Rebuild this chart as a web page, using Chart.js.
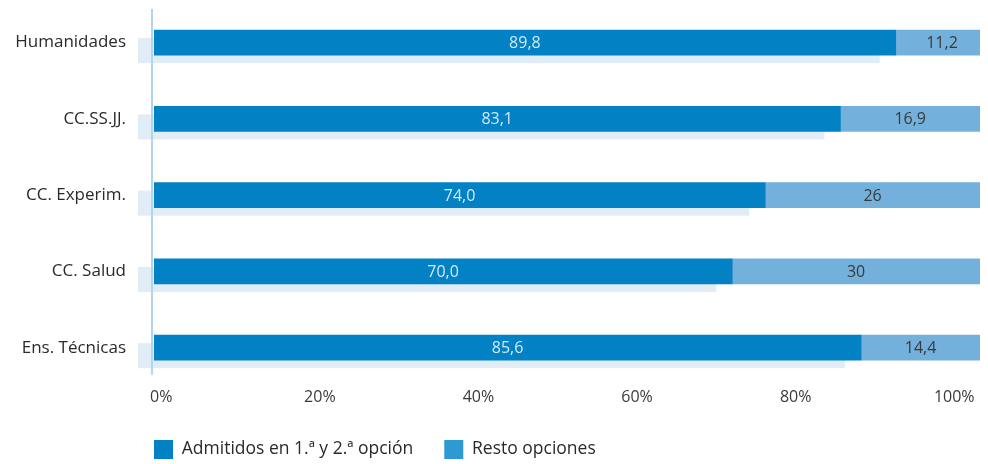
<!DOCTYPE html>
<html lang="es">
<head>
<meta charset="UTF-8">
<title>Admitidos por rama</title>
<script src="https://cdn.jsdelivr.net/npm/chart.js"></script>
<style>
    body { margin: 0; background: #fff; }
    .wrap { width: 988px; height: 464px; position: relative; }
</style>
</head>
<body>
<div class="wrap"><canvas id="chart"></canvas></div>
<script>
// data
const categories = ['Humanidades', 'CC.SS.JJ.', 'CC. Experim.', 'CC. Salud', 'Ens. Técnicas'];
const admitidos = [89.8, 83.1, 74.0, 70.0, 85.6];
const resto = [11.2, 16.9, 26, 30, 14.4];
const tickValues = [0, 20, 40, 60, 80, 100];
const seriesNames = ['Admitidos en 1.ª y 2.ª opción', 'Resto opciones'];

const barColors = ['#0281c4', '#74b0dc'];
const legendColors = ['#0281c4', '#2e9ad2'];
const valueColors = ['#d3eaf8', '#3a3a3a'];
const FONT = '"Open Sans", sans-serif';
const LEGEND_PAD = 31;

const fmt = (v, ds) => ds === 0 ? v.toFixed(1).replace('.', ',') : String(v).replace('.', ',');

// light "shadow" under first segment + the vertical axis line
const decor = {
    id: 'decor',
    beforeDatasetsDraw(chart) {
        const ctx = chart.ctx, area = chart.chartArea;
        ctx.save();
        ctx.fillStyle = '#e0ecf6';
        chart.getDatasetMeta(0).data.forEach(bar => {
            const h = bar.height;
            ctx.fillRect(bar.base - 16, bar.y - h / 2 + 8, bar.x - bar.base, h);
        });
        ctx.strokeStyle = '#b3d4ee';
        ctx.lineWidth = 2;
        ctx.beginPath();
        ctx.moveTo(area.left - 2, area.top + 4.5);
        ctx.lineTo(area.left - 2, area.bottom - 11);
        ctx.stroke();
        ctx.restore();
    },
    afterDatasetsDraw(chart) {
        const ctx = chart.ctx;
        ctx.save();
        ctx.font = '16px ' + FONT;
        ctx.textAlign = 'center';
        ctx.textBaseline = 'middle';
        chart.data.datasets.forEach((ds, i) => {
            ctx.fillStyle = valueColors[i];
            chart.getDatasetMeta(i).data.forEach((bar, j) => {
                ctx.fillText(fmt(ds.data[j], i), (bar.x + bar.base) / 2, bar.y + 1);
            });
        });
        ctx.restore();
    },
    afterLayout(chart) {
        // legend starts under the plot, not at the canvas edge
        if (chart.legend) chart.legend.left = chart.chartArea.left - LEGEND_PAD;
    }
};

new Chart(document.getElementById('chart'), {
    type: 'bar',
    data: {
        labels: categories,
        datasets: [
            { label: seriesNames[0], data: admitidos, backgroundColor: barColors[0], barThickness: 25, xAxisID: 'x' },
            { label: seriesNames[1], data: resto, backgroundColor: barColors[1], barThickness: 25, xAxisID: 'x' }
        ]
    },
    options: {
        indexAxis: 'y',
        responsive: true,
        maintainAspectRatio: false,
        animation: false,
        layout: { padding: { top: 4.5, right: 8, bottom: -5, left: 0 } },
        scales: {
            x: { stacked: true, min: 0, max: 100, display: false },
            x2: {
                type: 'linear',
                position: 'bottom',
                min: -0.92,
                max: 103.25,
                grid: { display: false, drawTicks: false },
                border: { display: false },
                afterBuildTicks: s => { s.ticks = tickValues.map(v => ({ value: v })); },
                ticks: {
                    padding: 2,
                    color: '#3a3a3a',
                    font: { family: FONT, size: 16 },
                    callback: v => v + '%'
                }
            },
            y: {
                stacked: true,
                grid: { display: false, drawTicks: false },
                border: { display: false },
                afterFit: s => { s.width = 154; s.paddingTop = 0; s.paddingBottom = 0; },
                ticks: {
                    padding: 28,
                    color: '#2a2a2a',
                    font: { family: FONT, size: 17 }
                }
            }
        },
        plugins: {
            tooltip: { enabled: false },
            legend: {
                position: 'bottom',
                align: 'start',
                labels: {
                    boxWidth: 19,
                    boxHeight: 19,
                    padding: LEGEND_PAD,
                    color: '#2a2a2a',
                    font: { family: FONT, size: 17.5 },
                    generateLabels: chart => Chart.defaults.plugins.legend.labels.generateLabels(chart)
                        .map((item, i) => Object.assign(item, { fillStyle: legendColors[i], strokeStyle: legendColors[i], lineWidth: 0 }))
                }
            }
        }
    },
    plugins: [decor]
});
</script>
</body>
</html>
